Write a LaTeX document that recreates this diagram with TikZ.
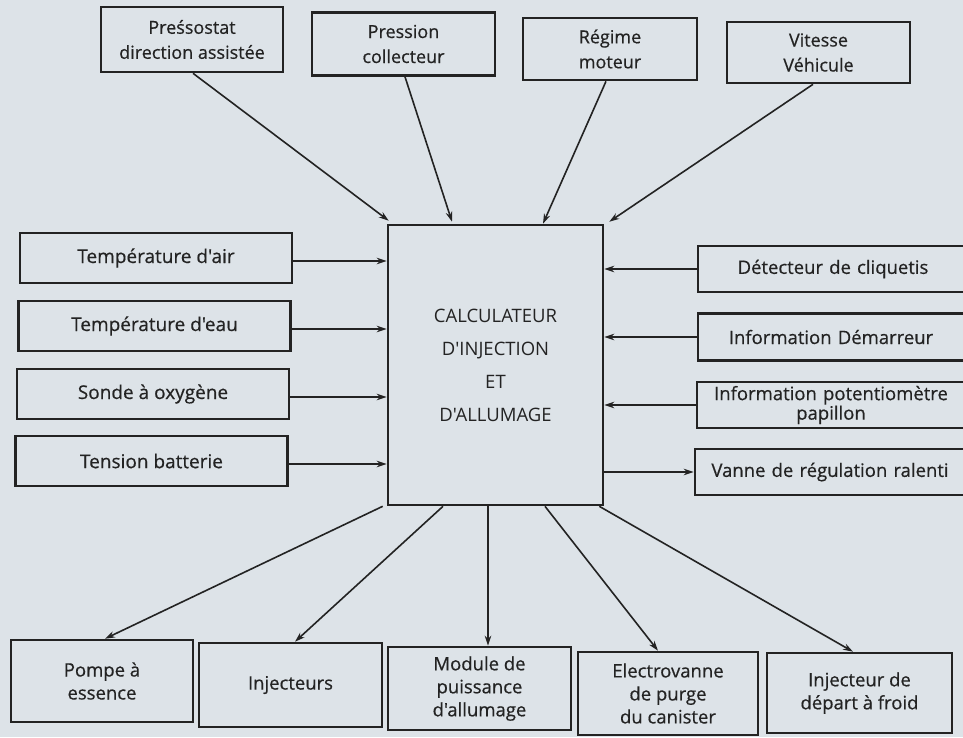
\documentclass[tikz,border=0pt]{standalone}
\usepackage{fontspec}
\setmainfont{Open Sans}
\newfontfamily\semib[FakeBold=0.5]{Open Sans}
\newfontfamily\regf{Open Sans}
\usetikzlibrary{arrows.meta,calc}
\definecolor{bg}{RGB}{221,227,232}
\definecolor{ink}{RGB}{35,35,35}
\definecolor{txt}{RGB}{35,35,35}
\tikzset{
  box/.style={draw=ink, line width=2.6pt, rectangle, inner sep=0pt, align=center,
    text=txt, font=\semib\fontsize{18.5}{23}\selectfont},
  ecubox/.style={draw=ink, line width=2.6pt, rectangle, inner sep=0pt, align=center,
    text=txt, font=\regf\fontsize{18.5}{33}\selectfont},
  arr/.style={draw=ink, line width=1.6pt, -{Stealth[length=10pt,width=6.5pt]}},
}
\begin{document}
\begin{tikzpicture}[x=1pt,y=-1pt]
\fill[bg] (0,0) rectangle (963,737);
\useasboundingbox (0,0) rectangle (963,737);
% top inputs
\node[box, minimum width=182pt, minimum height=65pt, font=\semib\fontsize{18}{25}\selectfont] (pres) at (192,39.5) {Preśsostat\\direction assistée};
\node[box, minimum width=183pt, minimum height=63pt, font=\semib\fontsize{18}{25}\selectfont] (coll) at (403.5,44) {Pression\\collecteur};
\node[box, minimum width=174pt, minimum height=62pt, font=\semib\fontsize{18}{25}\selectfont] (reg) at (610,49) {Régime\\moteur};
\node[box, minimum width=183pt, minimum height=61pt, font=\semib\fontsize{18}{25}\selectfont] (vit) at (818.5,52.5) {Vitesse\\Véhicule};
% central unit
\node[ecubox, minimum width=215pt, minimum height=280pt] (ecu) at (495.5,365) {CALCULATEUR\\D'INJECTION\\ET\\D'ALLUMAGE};
% left inputs
\node[box, minimum width=272pt, minimum height=50pt, font=\semib\fontsize{19}{23}\selectfont] (tair) at (156,258) {Température d'air};
\node[box, minimum width=272pt, minimum height=50pt, font=\semib\fontsize{19}{23}\selectfont] (teau) at (154.5,326) {Température d'eau};
\node[box, minimum width=272pt, minimum height=50pt, font=\semib\fontsize{19}{23}\selectfont] (sonde) at (153,394) {Sonde à oxygène};
\node[box, minimum width=272pt, minimum height=50pt, font=\semib\fontsize{19}{23}\selectfont] (tens) at (151.5,461) {Tension batterie};
% right side
\node[box, minimum width=280pt, minimum height=46pt, text width=260pt] (det) at (838,269) {\hspace*{-10pt}Détecteur de cliquetis};
\node[box, minimum width=280pt, minimum height=47pt, text width=260pt] (dem) at (838,337) {\hspace*{-14pt}Information Démarreur};
\node[box, minimum width=280pt, minimum height=46pt, text width=260pt, font=\semib\fontsize{18.5}{17}\selectfont] (pot) at (837,405) {\hspace*{-12pt}Information potentiomètre\\\hspace*{-12pt}papillon};
\node[box, minimum width=280pt, minimum height=46pt, text width=260pt] (van) at (835,472) {\hspace*{-10pt}Vanne de régulation ralenti};
% bottom outputs
\node[box, minimum width=182pt, minimum height=82pt] (pompe) at (102,681) {Pompe à\\essence};
\node[box, minimum width=183pt, minimum height=84pt] (inj) at (290.5,685) {Injecteurs};
\node[box, minimum width=183pt, minimum height=83pt] (mod) at (479.5,688.5) {Module de\\puissance\\d'allumage};
\node[box, minimum width=180pt, minimum height=83pt] (elec) at (668,693.5) {Electrovanne\\de purge\\du canister};
\node[box, minimum width=185pt, minimum height=80pt] (froid) at (859.5,693) {Injecteur de\\départ à froid};
% top arrows
\draw[arr] ([xshift=1pt]pres.south) -- ([xshift=2pt,yshift=3pt]ecu.north west);
\draw[arr] ([xshift=1.5pt]coll.south) -- ([xshift=-43.5pt,yshift=2pt]ecu.north);
\draw[arr] ([xshift=-4pt]reg.south) -- ([xshift=47.5pt]ecu.north);
\draw[arr] ([xshift=-5.5pt]vit.south) -- ([xshift=5pt,yshift=2pt]ecu.north east);
% left arrows
\foreach \n in {tair,teau,sonde,tens}
  \draw[arr] ([yshift=-3pt]\n.east) -- ([yshift=-3pt]\n.east -| ecu.west);
% right arrows
\foreach \n in {det,dem,pot}
  \draw[arr] (\n.west) -- (\n.west -| ecu.east);
\draw[arr] (van.west -| ecu.east) -- (van.west);
% bottom arrows
\draw[arr] ([xshift=-4pt]ecu.south west) -- ([xshift=3pt]pompe.north);
\draw[arr] ([xshift=-52.5pt]ecu.south) -- ([xshift=4.5pt]inj.north);
\draw[arr] ([xshift=-7.5pt]ecu.south) -- ([xshift=-7.5pt]ecu.south |- mod.north);
\draw[arr] ([xshift=49.5pt]ecu.south) -- ([xshift=-10pt]elec.north);
\draw[arr] ([xshift=-5pt]ecu.south east) -- ([xshift=-6.5pt]froid.north);
\end{tikzpicture}
\end{document}
